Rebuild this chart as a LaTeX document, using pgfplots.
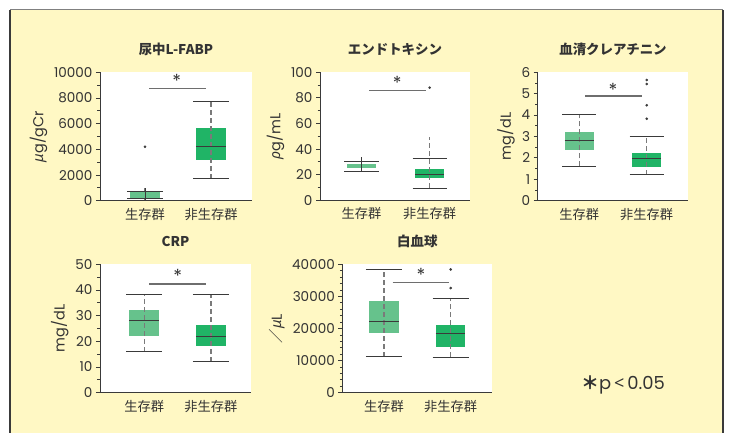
\documentclass[border=0pt]{standalone}
\usepackage{fontspec}
\setmainfont{Poppins}
\newfontfamily\cjk{Noto Sans CJK JP}
\newfontfamily\gr{Noto Sans}
\usepackage{pgfplots}
\pgfplotsset{compat=1.18}
\definecolor{bg}{HTML}{FFF8C4}
\definecolor{boxA}{HTML}{66C28C}
\definecolor{boxB}{HTML}{20B466}
\definecolor{dk}{HTML}{3A3A3A}
\definecolor{wg}{HTML}{7A7A7A}
\definecolor{sg}{HTML}{6E6E6E}
\definecolor{txt}{HTML}{333333}
\tikzset{sigstar/.style={font=\fontsize{18}{18}\selectfont, text=txt}}
\pgfplotsset{
  panel/.style={
    scale only axis, axis lines*=left,
    axis line style={draw=dk, line width=0.9bp},
    axis background/.style={fill=white},
    xtick={1,2}, xticklabels={{\cjk 生存群},{\cjk 非生存群}},
    x tick label style={font=\fontsize{13.3}{13}\selectfont, text=txt},
    y tick label style={font=\fontsize{13.6}{13}\selectfont, text=txt},
    major x tick style={draw=none},
    ytick style={draw=dk, line width=0.8bp},
    tick align=outside, major tick length=4bp, minor tick length=2.5bp,
    minor y tick num=1,
    scaled y ticks=false,
    /pgf/number format/1000 sep={}, /pgf/number format/assume math mode=true,
    title style={font=\cjk\bfseries\fontsize{13.5}{13}\selectfont, text=txt, at={(0.5,1)}, anchor=center, yshift=17bp},
    ylabel style={font=\fontsize{14.5}{14}\selectfont, text=txt},
    clip=false,
  },
  boxa/.style={fill=boxA, draw=none},
  boxb/.style={fill=boxB, draw=none},
  whisk/.style={draw=wg, line width=1.2bp, dash pattern=on 5bp off 3bp},
  capl/.style={draw=dk, line width=1bp},
  sigl/.style={draw=sg, line width=1.3bp},
  outl/.style={only marks, mark=*, mark size=1.1bp, mark options={fill=dk, draw=dk}},
}
\begin{document}
\begin{tikzpicture}
\fill[white] (0,0) rectangle (730bp,433bp);
\fill[bg] (10bp,0bp) rectangle (723bp,423bp);
\draw[line width=1bp, draw=gray] (10bp,423bp) -- (723bp,423bp);
\draw[line width=1.2bp, draw=dk] (10bp,0bp) -- (10bp,423bp);
\draw[line width=1.2bp, draw=dk] (723bp,0bp) -- (723bp,423bp);

% Panel 1
\begin{axis}[panel, at={(100bp,232.3bp)}, anchor=south west, width=152bp, height=128.4bp,
  xmin=0.318, xmax=2.621, ymin=0, ymax=10000, ytick={0,2000,...,10000},
  title={尿中L-FABP}, ylabel={{\gr\itshape μ}g/gCr}]
\addplot[whisk] coordinates {(1,50) (1,1000)};
\addplot[boxa] coordinates {(0.78,210) (1.22,210) (1.22,650) (0.78,650)} -- cycle;
\addplot[capl] coordinates {(0.73,200) (1.27,200)};
\addplot[capl] coordinates {(0.73,680) (1.27,680)};
\addplot[capl] coordinates {(1,50) (1,1000)};
\addplot[outl] coordinates {(1,4200)};
\addplot[boxb] coordinates {(1.78,3200) (2.22,3200) (2.22,5700) (1.78,5700)} -- cycle;
\addplot[whisk] coordinates {(2,1700) (2,7700)};
\addplot[capl] coordinates {(1.78,4200) (2.22,4200)};
\addplot[capl] coordinates {(1.73,1700) (2.27,1700)};
\addplot[capl] coordinates {(1.73,7700) (2.27,7700)};
\addplot[sigl] coordinates {(1.065,8720) (1.92,8720)};
\node[sigstar] at (axis cs:1.48,9300) {*};
\end{axis}

% Panel 2
\begin{axis}[panel, at={(320bp,232.7bp)}, anchor=south west, width=150bp, height=128bp,
  xmin=0.391, xmax=2.591, ymin=0, ymax=100, ytick={0,20,...,100},
  title={エンドトキシン}, ylabel={{\gr\itshape ρ}g/mL}]
\addplot[boxa] coordinates {(0.787,25.5) (1.213,25.5) (1.213,28.6) (0.787,28.6)} -- cycle;
\addplot[capl] coordinates {(1,22.3) (1,33.6)};
\addplot[capl] coordinates {(0.75,22.3) (1.25,22.3)};
\addplot[capl] coordinates {(0.75,30) (1.25,30)};
\addplot[boxb] coordinates {(1.787,17.7) (2.213,17.7) (2.213,24.5) (1.787,24.5)} -- cycle;
\addplot[whisk] coordinates {(2,9.8) (2,49.5)};
\addplot[capl] coordinates {(1.787,20.3) (2.213,20.3)};
\addplot[capl] coordinates {(1.75,9.4) (2.25,9.4)};
\addplot[capl] coordinates {(1.75,32.3) (2.25,32.3)};
\addplot[outl] coordinates {(2,88)};
\addplot[sigl] coordinates {(1.114,85.7) (1.946,85.7)};
\node[sigstar] at (axis cs:1.525,91.5) {*};
\end{axis}

% Panel 3
\begin{axis}[panel, at={(537.7bp,232.3bp)}, anchor=south west, width=150.6bp, height=128.4bp,
  xmin=0.383, xmax=2.617, ymin=0, ymax=6, ytick={0,1,...,6},
  title={血清クレアチニン}, ylabel={mg/dL}]
\addplot[boxa] coordinates {(0.782,2.38) (1.218,2.38) (1.218,3.21) (0.782,3.21)} -- cycle;
\addplot[whisk] coordinates {(1,1.6) (1,4.05)};
\addplot[capl] coordinates {(0.782,2.79) (1.218,2.79)};
\addplot[capl] coordinates {(0.745,1.6) (1.255,1.6)};
\addplot[capl] coordinates {(0.745,4.05) (1.255,4.05)};
\addplot[boxb] coordinates {(1.782,1.57) (2.218,1.57) (2.218,2.21) (1.782,2.21)} -- cycle;
\addplot[whisk] coordinates {(2,1.22) (2,3.02)};
\addplot[capl] coordinates {(1.782,1.95) (2.218,1.95)};
\addplot[capl] coordinates {(1.745,1.22) (2.255,1.22)};
\addplot[capl] coordinates {(1.745,3.02) (2.255,3.02)};
\addplot[outl] coordinates {(2,5.64) (2,5.45) (2,4.46) (2,3.83)};
\addplot[sigl] coordinates {(1.085,4.89) (1.926,4.89)};
\node[sigstar] at (axis cs:1.5,5.18) {*};
\end{axis}

% Panel 4
\begin{axis}[panel, at={(100bp,40.3bp)}, anchor=south west, width=151bp, height=128.4bp,
  xmin=0.336, xmax=2.6, ymin=0, ymax=50, ytick={0,10,...,50},
  title={CRP}, ylabel={mg/dL}]
\addplot[boxa] coordinates {(0.778,22.1) (1.222,22.1) (1.222,32.2) (0.778,32.2)} -- cycle;
\addplot[whisk] coordinates {(1,16) (1,38.3)};
\addplot[capl] coordinates {(0.778,28.2) (1.222,28.2)};
\addplot[capl] coordinates {(0.73,16) (1.27,16)};
\addplot[capl] coordinates {(0.73,38.3) (1.27,38.3)};
\addplot[boxb] coordinates {(1.778,18.2) (2.222,18.2) (2.222,26.2) (1.778,26.2)} -- cycle;
\addplot[whisk] coordinates {(2,12.1) (2,38.3)};
\addplot[capl] coordinates {(1.778,21.9) (2.222,21.9)};
\addplot[capl] coordinates {(1.73,12.1) (2.27,12.1)};
\addplot[capl] coordinates {(1.73,38.3) (2.27,38.3)};
\addplot[sigl] coordinates {(1.075,42.3) (1.92,42.3)};
\node[sigstar] at (axis cs:1.5,45.3) {*};
\end{axis}

% Panel 5
\begin{axis}[panel, at={(342.3bp,40.3bp)}, anchor=south west, width=150bp, height=128.4bp,
  xmin=0.375, xmax=2.624, ymin=0, ymax=40000, ytick={0,10000,...,40000}, minor y tick num=4,
  title={白血球}, ylabel={{\cjk ／}{\gr\itshape μ}L}]
\addplot[boxa] coordinates {(0.778,18700) (1.222,18700) (1.222,28600) (0.778,28600)} -- cycle;
\addplot[whisk] coordinates {(1,11200) (1,38400)};
\addplot[capl] coordinates {(0.778,22300) (1.222,22300)};
\addplot[capl] coordinates {(0.73,11200) (1.27,11200)};
\addplot[capl] coordinates {(0.73,38400) (1.27,38400)};
\addplot[boxb] coordinates {(1.778,14200) (2.222,14200) (2.222,21000) (1.778,21000)} -- cycle;
\addplot[whisk] coordinates {(2,11100) (2,29200)};
\addplot[capl] coordinates {(1.778,18300) (2.222,18300)};
\addplot[capl] coordinates {(1.73,11100) (2.27,11100)};
\addplot[capl] coordinates {(1.73,29200) (2.27,29200)};
\addplot[outl] coordinates {(2,38400) (2,32600)};
\addplot[sigl] coordinates {(1.13,34300) (1.975,34300)};
\node[sigstar] at (axis cs:1.555,36600) {*};
\end{axis}

\node[font=\fontsize{18}{18}\selectfont, text=txt, anchor=center] at (623bp,48bp) {{\cjk\bfseries ＊}p\,{\gr <}\,0.05};
\pgfresetboundingbox
\useasboundingbox (0,0) rectangle (730bp,433bp);
\end{tikzpicture}
\end{document}
